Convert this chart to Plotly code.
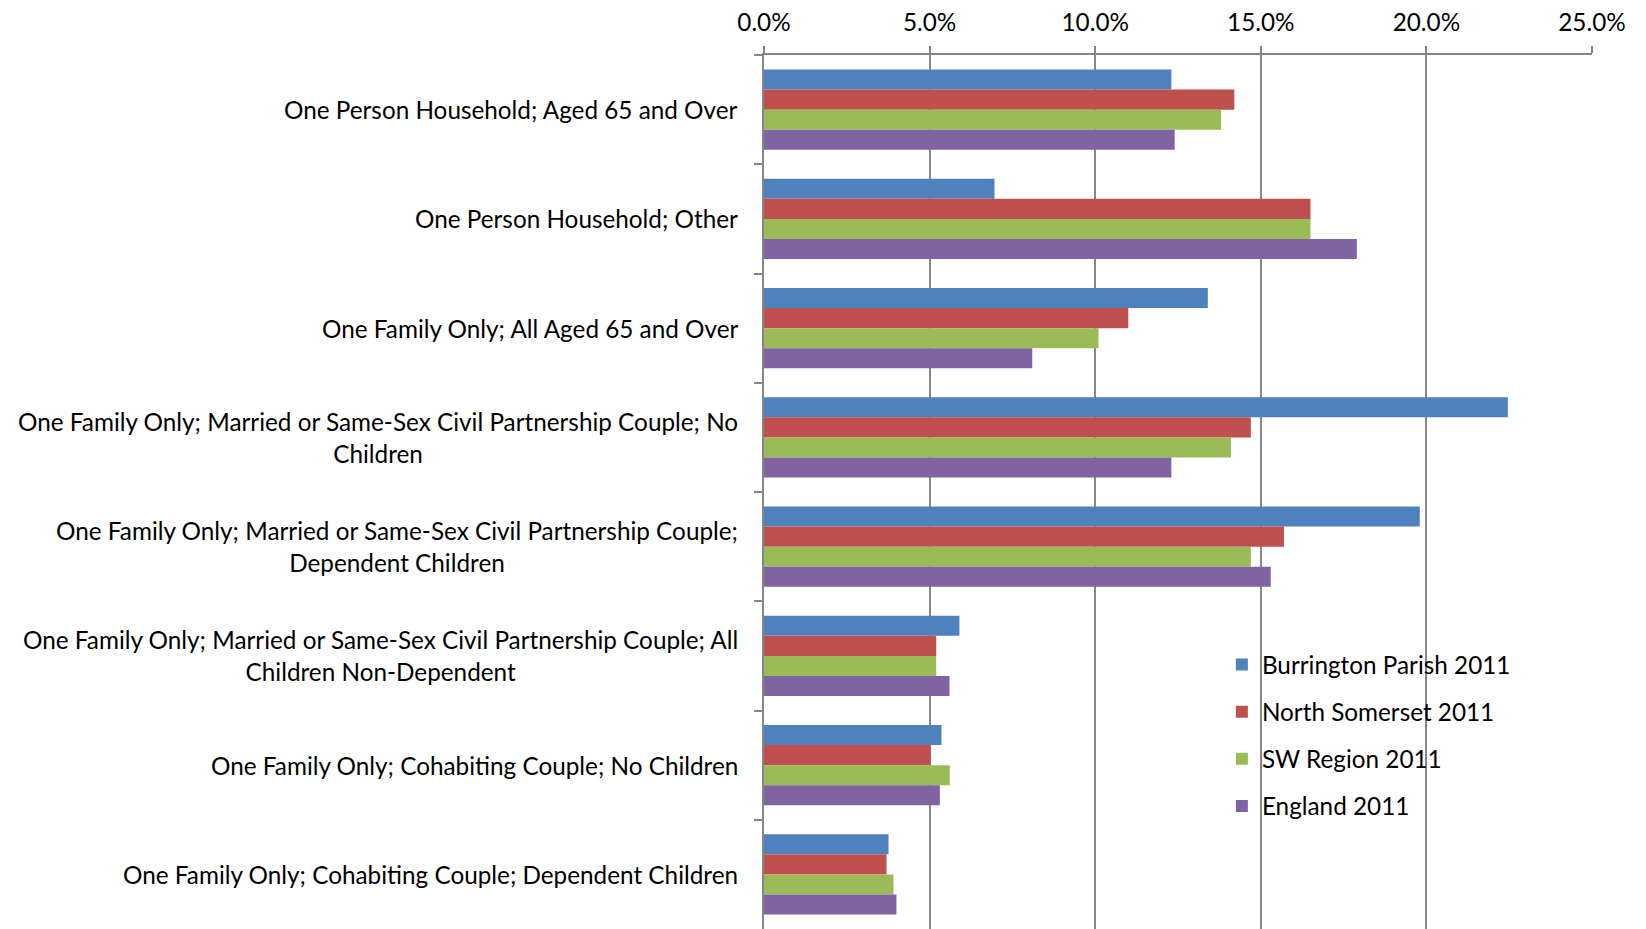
import plotly.graph_objects as go

categories = [
    "One Person Household; Aged 65 and Over",
    "One Person Household; Other",
    "One Family Only; All Aged 65 and Over",
    "One Family Only; Married or Same-Sex Civil Partnership Couple; No<br>Children",
    "One Family Only; Married or Same-Sex Civil Partnership Couple;<br>Dependent Children",
    "One Family Only; Married or Same-Sex Civil Partnership Couple; All<br>Children Non-Dependent",
    "One Family Only; Cohabiting Couple; No Children",
    "One Family Only; Cohabiting Couple; Dependent Children",
]
cat_keys = [c.replace("<br>", " ") for c in categories]

burrington = [0.123, 0.0696, 0.134, 0.2246, 0.198, 0.059, 0.0536, 0.0376]
north_somerset = [0.142, 0.165, 0.110, 0.147, 0.157, 0.052, 0.0503, 0.037]
sw_region = [0.138, 0.165, 0.101, 0.141, 0.147, 0.052, 0.0561, 0.0391]
england = [0.124, 0.179, 0.081, 0.123, 0.153, 0.056, 0.0531, 0.040]

series = [
    ("Burrington Parish 2011", burrington, "#4F81BD"),
    ("North Somerset 2011", north_somerset, "#C0504D"),
    ("SW Region 2011", sw_region, "#9BBB59"),
    ("England 2011", england, "#8064A2"),
]

x_ticks = [0, 0.05, 0.10, 0.15, 0.20, 0.25]

FONT = "Lato"
FS = 24.3

fig = go.Figure()
for name, vals, color in series:
    fig.add_trace(go.Bar(
        y=cat_keys, x=vals, name=name, orientation="h",
        marker=dict(color=color, line=dict(width=0)),
        legendgroup=name,
    ))

for key, label in zip(cat_keys, categories):
    fig.add_annotation(
        x=0, xref="paper", y=key, yref="y", text=label,
        showarrow=False, xanchor="right", yanchor="middle", align="center",
        xshift=-24, font=dict(family=FONT, size=FS, color="#000000"),
    )

fig.update_layout(
    width=1638, height=921,
    margin=dict(l=756, r=54, t=47, b=0, pad=0, autoexpand=False),
    paper_bgcolor="white", plot_bgcolor="white",
    barmode="group", bargap=0.267, bargroupgap=0,
    font=dict(family=FONT, size=FS, color="#000000"),
    showlegend=True,
    legend=dict(
        x=0.553, y=0.328, xanchor="left", yanchor="top",
        traceorder="grouped", tracegroupgap=12.5,
        font=dict(family=FONT, size=FS), bgcolor="rgba(0,0,0,0)",
    ),
    xaxis=dict(
        side="top", range=[0, 0.25], tickvals=x_ticks, tickformat=".1%",
        showgrid=True, gridcolor="#868686", gridwidth=1.5,
        showline=True, linecolor="#868686", linewidth=1.5,
        ticks="outside", ticklen=7, tickcolor="#868686", tickwidth=1.5,
        ticklabelstandoff=6,
        zeroline=False, fixedrange=True, automargin=False,
        tickfont=dict(family=FONT, size=FS),
    ),
    yaxis=dict(
        autorange="reversed", type="category",
        categoryorder="array", categoryarray=cat_keys,
        showticklabels=False, showline=True, linecolor="#868686", linewidth=1.5,
        ticks="outside", ticklen=8, tickcolor="#868686", tickwidth=1.5,
        tickson="boundaries", showgrid=False, fixedrange=True, automargin=False,
    ),
)

fig.write_html("out.html")
